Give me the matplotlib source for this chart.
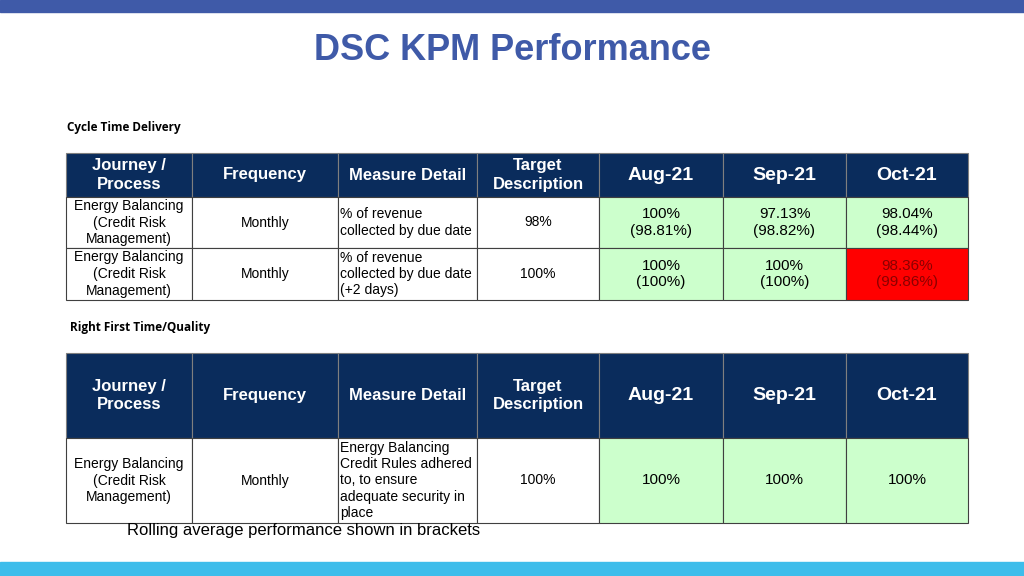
import matplotlib
matplotlib.use("Agg")
import matplotlib.pyplot as plt
from matplotlib.patches import Rectangle

title = "DSC KPM Performance"
section1 = "Cycle Time Delivery"
section2 = "Right First Time/Quality"
headers = ["Journey /\nProcess", "Frequency", "Measure Detail", "Target\nDescription", "Aug-21", "Sep-21", "Oct-21"]
t1_rows = [
    ["Energy Balancing\n(Credit Risk\nManagement)", "Monthly", "% of revenue\ncollected by due date", "98%", "100%\n(98.81%)", "97.13%\n(98.82%)", "98.04%\n(98.44%)"],
    ["Energy Balancing\n(Credit Risk\nManagement)", "Monthly", "% of revenue\ncollected by due date\n(+2 days)", "100%", "100%\n(100%)", "100%\n(100%)", "98.36%\n(99.86%)"],
]
t1_status = [["g", "g", "g"], ["g", "g", "r"]]
t2_rows = [
    ["Energy Balancing\n(Credit Risk\nManagement)", "Monthly", "Energy Balancing\nCredit Rules adhered\nto, to ensure\nadequate security in\nplace", "100%", "100%", "100%", "100%"],
]
t2_status = [["g", "g", "g"]]
footnote = "Rolling average performance shown in brackets"

fig = plt.figure(figsize=(10.24, 5.76), dpi=100)
ax = fig.add_axes([0, 0, 1, 1])
ax.set_xlim(0, 1024); ax.set_ylim(576, 0); ax.axis("off")

ax.add_patch(Rectangle((0, 0), 1024, 12, color="#3F5AA8"))
ax.add_patch(Rectangle((0, 562), 1024, 14, color="#3DBDEB"))
ax.text(512, 50, title, ha="center", va="center", fontsize=26, fontweight="bold", color="#3F5AA8", family="Liberation Sans")

xs = [66, 192, 338, 477, 599, 723, 846, 968]
NAVY = "#0A2C5C"
colors = {"g": "#CCFFCC", "r": "#FF0000"}

def table(y_head, h_head, rows, heights, status):
    for i, h in enumerate(headers):
        x0, x1 = xs[i], xs[i + 1]
        ax.add_patch(Rectangle((x0, y_head), x1 - x0, h_head, facecolor=NAVY, edgecolor="#7F7F7F", lw=0.8))
        ax.text((x0 + x1) / 2, y_head + h_head / 2, h, ha="center", va="center", color="white",
                fontsize=14 if i >= 4 else 12, fontweight="bold", family="Liberation Sans", linespacing=1.3)
    y = y_head + h_head
    for r, row in enumerate(rows):
        hh = heights[r]
        for i, val in enumerate(row):
            x0, x1 = xs[i], xs[i + 1]
            fc = colors[status[r][i - 4]] if i >= 4 else "white"
            tc = "#8B0000" if fc == "#FF0000" else "black"
            ax.add_patch(Rectangle((x0, y), x1 - x0, hh, facecolor=fc, edgecolor="#404040", lw=0.8))
            if i == 2:
                ax.text(x0 + 2, y + hh / 2, val, ha="left", va="center", fontsize=10, family="Liberation Sans", linespacing=1.2)
            else:
                ax.text((x0 + x1) / 2, y + hh / 2, val, ha="center", va="center", color=tc,
                        fontsize=11 if i >= 4 else 10, family="Liberation Sans", linespacing=1.25)
        y += hh

ax.text(67, 128, section1, ha="left", va="center", fontsize=8.5, fontweight="bold", family="Open Sans")
table(153, 44, t1_rows, [51, 52], t1_status)
ax.text(70, 327, section2, ha="left", va="center", fontsize=8.5, fontweight="bold", family="Open Sans")
table(353, 85, t2_rows, [85], t2_status)
ax.text(127, 530, footnote, ha="left", va="center", fontsize=12, family="Liberation Sans")

fig.savefig("out.png", dpi=100)
